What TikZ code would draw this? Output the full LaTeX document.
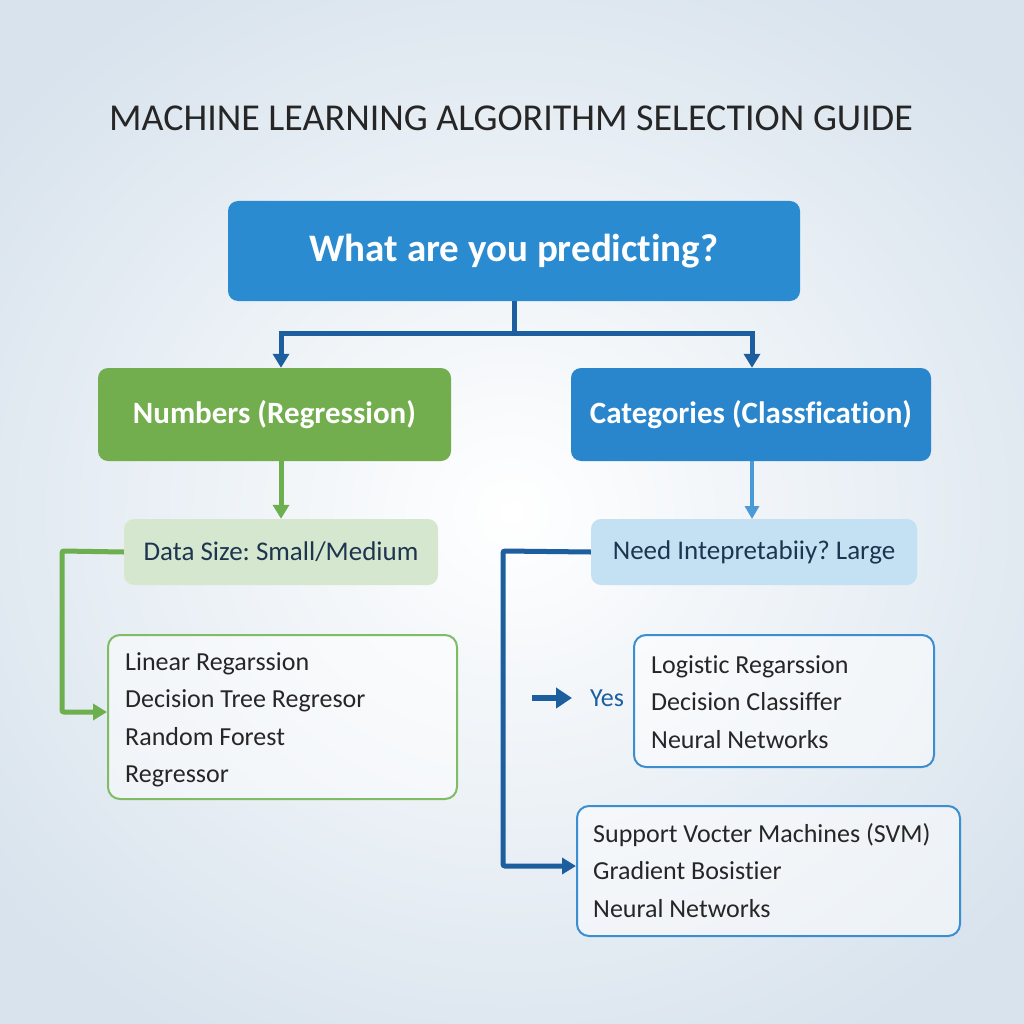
\documentclass[tikz,border=0pt]{standalone}
\usepackage{fontspec}
\setmainfont{Carlito}[Ligatures=NoCommon]
\frenchspacing
\usetikzlibrary{arrows.meta}
\definecolor{bgout}{HTML}{D8E3ED}
\definecolor{topblue}{HTML}{2B8BD0}
\definecolor{catblue}{HTML}{2A86CC}
\definecolor{mygreen}{HTML}{73AE4E}
\definecolor{lgreen}{HTML}{D5E7CF}
\definecolor{lblue}{HTML}{C4E1F4}
\definecolor{dblue}{HTML}{1C5E9E}
\definecolor{gline}{HTML}{6DAF4F}
\definecolor{goutline}{HTML}{80BC64}
\definecolor{boutline}{HTML}{3B8ED0}
\definecolor{bline}{HTML}{4A9AD8}
\definecolor{txt}{HTML}{262626}
\definecolor{navy}{HTML}{1E3550}
\tikzset{
  x=1pt, y=-1pt,
  solidbox/.style={rounded corners=10pt, text=white, font=\fontsize{31}{36}\selectfont\bfseries, inner sep=0pt},
  softbox/.style={rounded corners=10pt, text=navy, font=\fontsize{27}{32}\selectfont, inner sep=0pt},
  listbox/.style={rounded corners=12pt, line width=2pt, fill=white, fill opacity=0.5, text opacity=1, inner sep=0pt},
  listtxt/.style={anchor=north west, align=left, text=txt, font=\fontsize{26}{37.5}\selectfont, inner sep=0pt},
  darkline/.style={draw=dblue, line width=5pt, -{Triangle[length=14pt,width=16pt]}},
  greenline/.style={draw=gline, line width=5pt, -{Triangle[length=14pt,width=16pt]}},
  blueline/.style={draw=bline, line width=3.5pt, -{Triangle[length=13pt,width=14pt]}},
}
\begin{document}
\begin{tikzpicture}
\useasboundingbox (0,0) rectangle (1024,1024);
\shade[inner color=white, outer color=bgout] (-150,-100) rectangle (1174,1124);

\node[text=txt, font=\fontsize{38}{44}\selectfont] (title) at (511,118) {MACHINE LEARNING ALGORITHM SELECTION GUIDE};

\node[solidbox, fill=topblue, minimum width=572pt, minimum height=100pt, font=\fontsize{39}{44}\selectfont\bfseries] (top) at (514,251) {What are you predicting?};
\node[solidbox, fill=mygreen, minimum width=353pt, minimum height=93pt] (num) at (274.5,414.5) {Numbers (Regression)};
\node[solidbox, fill=catblue, minimum width=360pt, minimum height=93pt] (cat) at (751,414.5) {Categories (Classfication)};

\node[softbox, fill=lgreen, minimum width=314pt, minimum height=66pt] (dsz) at (281,552) {Data Size: Small/Medium};
\node[softbox, fill=lblue, minimum width=326pt, minimum height=66pt] (need) at (754,552) {Need Intepretabiiy? Large};

\node[listbox, draw=goutline, minimum width=349pt, minimum height=164pt] (glist) at (282.5,717) {};
\node[listbox, draw=boutline, minimum width=300pt, minimum height=132pt] (clist1) at (784,701) {};
\node[listbox, draw=boutline, minimum width=383pt, minimum height=130pt] (clist2) at (768.5,871) {};

\node[listtxt] (gtxt) at (125,652) {Linear Regarssion\\Decision Tree Regresor\\Random Forest\\Regressor};
\node[listtxt] (c1txt) at (651,655) {Logistic Regarssion\\Decision Classiffer\\Neural Networks};
\node[listtxt] (c2txt) at (593,823) {Support Vocter Machines (SVM)\\Gradient Bosistier\\Neural Networks};

\draw[darkline] (top.south) -- ++(0,32) -| (num.north -| dsz.north);
\draw[darkline] (top.south) -- ++(0,32) -| (cat.north -| 752,0);
\draw[greenline] (dsz.north |- num.south) -- (dsz.north);
\draw[blueline] (752,461) -- (752,519);

\draw[greenline, rounded corners=2pt] (dsz.west) -- (62,551) |- (107,712);
\draw[darkline, rounded corners=2pt] (need.west) -- (503,551) |- (576,866);

\node[text=dblue, font=\fontsize{26}{30}\selectfont] (yes) at (607,698) {Yes};
\coordinate (ya) at (532,698);
\draw[draw=dblue, line width=6pt, -{Triangle[length=16pt,width=20pt]}] (ya) -- (572,698);
\end{tikzpicture}
\end{document}
